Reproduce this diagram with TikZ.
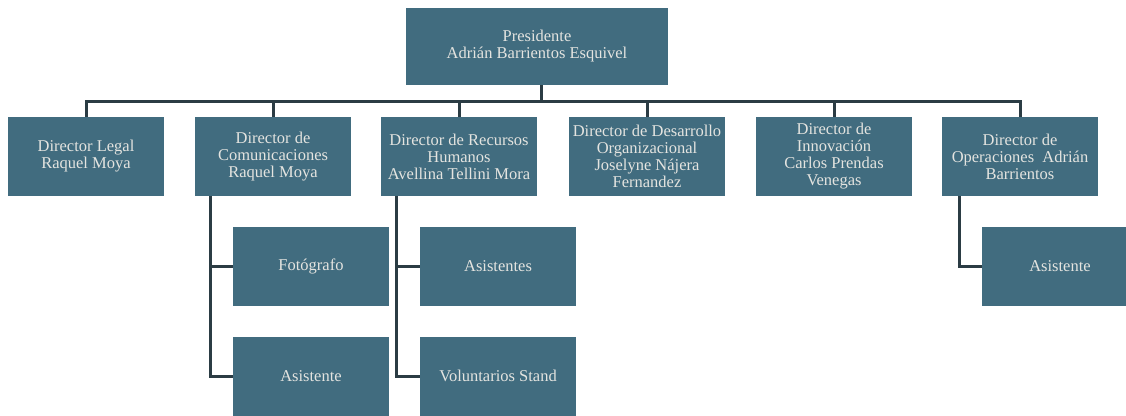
\documentclass[tikz,border=0pt]{standalone}
\usepackage{fontspec}
\setmainfont{Liberation Serif}
\usetikzlibrary{positioning,calc}
\definecolor{boxc}{HTML}{416C7F}
\definecolor{linec}{HTML}{2B3C44}
\definecolor{txtc}{HTML}{E4E4E0}
\tikzset{
  unit/.style={rectangle, fill=boxc, inner sep=0pt, minimum width=156pt, minimum height=79pt,
    text=txtc, align=center, font=\fontsize{16.5}{17}\selectfont},
  link/.style={draw=linec, line width=3pt},
}
\newcommand{\lvl}[1]{({#1}, 156.5)}

\begin{document}
\begin{tikzpicture}[x=1pt, y=-1pt]
  \useasboundingbox (0,0) rectangle (1126,415);
  % presidencia
  \node[unit, minimum width=262pt, minimum height=77pt] (pres) at (537,46.5) {Presidente\\Adrián Barrientos Esquivel};
  % directores
  \node[unit] (dleg) at \lvl{86} {Director Legal\\Raquel Moya};
  \node[unit] (dcom) at \lvl{273} {Director de\\Comunicaciones\\Raquel Moya};
  \node[unit] (drh) at \lvl{459} {Director de Recursos\\Humanos\\Avellina Tellini Mora};
  \node[unit] (ddes) at \lvl{647} {Director de Desarrollo\\Organizacional\\Joselyne Nájera\\Fernandez};
  \node[unit] (dinn) at \lvl{834} {Director de\\Innovación\\Carlos Prendas\\Venegas};
  \node[unit] (dope) at \lvl{1020} {Director de\\Operaciones\ \ Adrián\\Barrientos};
  % personal
  \node[unit] (foto) at (311,266) {Fotógrafo};
  \node[unit] (asis) at (311,376) {Asistente};
  \node[unit] (asts) at (498,266) {Asistentes};
  \node[unit] (vol) at (498,376) {Voluntarios Stand};
  \node[unit] (asop) at (1060,266) {Asistente};
  \coordinate (bar) at (0,101);
  \foreach \d in {dleg,dcom,drh,ddes,dinn,dope}
    \draw[link] ([xshift=4pt]pres.south) |- (bar -| \d.north) -- (\d.north);
  \coordinate (tcom) at ([xshift=16pt]dcom.south west);
  \coordinate (trh) at ([xshift=16pt]drh.south west);
  \coordinate (tope) at ([xshift=18pt]dope.south west);
  \foreach \s in {foto,asis} \draw[link] (tcom) |- (\s.west);
  \foreach \s in {asts,vol} \draw[link] (trh) |- (\s.west);
  \draw[link] (tope) |- (asop.west);
\end{tikzpicture}
\end{document}
